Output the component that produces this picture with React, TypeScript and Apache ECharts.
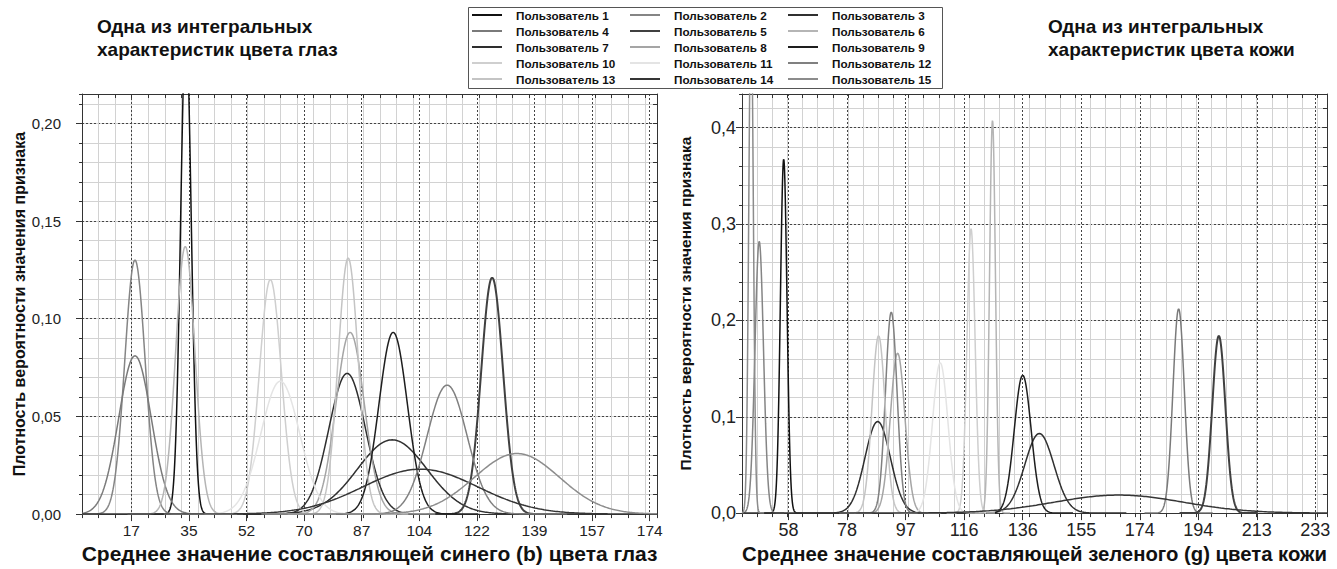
import React, { useEffect, useRef } from 'react';
import * as echarts from 'echarts';

const FONT = "'Liberation Sans', Arial, Helvetica, sans-serif";

const userNames = [
  'Пользователь 1', 'Пользователь 2', 'Пользователь 3', 'Пользователь 4', 'Пользователь 5',
  'Пользователь 6', 'Пользователь 7', 'Пользователь 8', 'Пользователь 9', 'Пользователь 10',
  'Пользователь 11', 'Пользователь 12', 'Пользователь 13', 'Пользователь 14', 'Пользователь 15',
];
const userColors = [
  '#111111', '#858585', '#303030', '#7a7a7a', '#404040',
  '#b5b5b5', '#2e2e2e', '#a5a5a5', '#1e1e1e', '#cfcfcf',
  '#e4e4e4', '#808080', '#c4c4c4', '#353535', '#8c8c8c',
];
const userWidths = [1.5, 1.5, 1.5, 1.5, 2, 1.5, 1.5, 1.5, 1.5, 1.5, 1.5, 1.5, 1.5, 1.5, 1.5];

// Eye colour (b): mean and peak density per user
const eyeMeans = [33.9, 18.5, 96.2, 18.5, 126.4, 33.7, 82.6, 83.5, 96.5, 59.4, 62.4, 112.8, 82.9, 104.7, 133.9];
const eyePeaks = [0.25, 0.13, 0.038, 0.081, 0.121, 0.137, 0.072, 0.093, 0.093, 0.12, 0.068, 0.066, 0.131, 0.023, 0.031];
// Skin colour (g): mean and peak density per user
const skinMeans = [56.6, 48.5, 141.2, 187.3, 200.6, 125.7, 87.7, 94.3, 135.7, 118.6, 108.4, 92.2, 88.0, 167.5, 45.8];
const skinPeaks = [0.3675, 0.282, 0.0826, 0.212, 0.184, 0.4076, 0.095, 0.166, 0.143, 0.295, 0.156, 0.2086, 0.184, 0.0187, 0.53];

const eyeTicks = [17.4, 34.8, 52.2, 69.6, 87.0, 104.4, 121.8, 139.2, 156.6, 174.0];
const skinTicks = [58.22, 77.59, 96.96, 116.33, 135.7, 155.07, 174.44, 193.81, 213.18, 232.55];
const eyeYTicks = [0, 0.05, 0.1, 0.15, 0.2];
const skinYTicks = [0, 0.1, 0.2, 0.3, 0.4];

const EYE_X = { min: 2.5, max: 176.2, minor: 5 };
const SKIN_X = { min: 42.8, max: 236.4, minor: 5.01 };
const EYE_Y = { min: 0, max: 0.215, minor: 0.01 };
const SKIN_Y = { min: 0, max: 0.435, minor: 0.02 };

function densityPoints(mean: number, peak: number, min: number, max: number) {
  const sigma = 1 / (peak * Math.sqrt(2 * Math.PI));
  const lo = Math.max(min, mean - 6 * sigma);
  const hi = Math.min(max, mean + 6 * sigma);
  const n = 320;
  const pts: number[][] = [];
  for (let i = 0; i <= n; i++) {
    const x = lo + ((hi - lo) * i) / n;
    const z = (x - mean) / sigma;
    pts.push([x, peak * Math.exp(-0.5 * z * z)]);
  }
  return pts;
}

const AXIS_COLOR = '#333';
const MINOR_COLOR = '#d2d2d2';
const MAJOR_COLOR = '#444';

function minorX(gridIndex: number, r: any) {
  return {
    type: 'value', gridIndex, position: 'bottom', min: r.min, max: r.max, interval: r.minor,
    axisLine: { show: false, onZero: false },
    axisLabel: { show: false },
    axisTick: { show: true, length: 4, lineStyle: { color: AXIS_COLOR } },
    splitLine: { show: true, lineStyle: { color: MINOR_COLOR, width: 1 } },
  };
}
function majorX(gridIndex: number, r: any, ticks: number[], name: string, labelSize: number, nameSize: number) {
  return {
    type: 'value', gridIndex, position: 'bottom', min: r.min, max: r.max,
    name, nameLocation: 'middle', nameGap: 25,
    nameTextStyle: { fontSize: nameSize, fontWeight: 'bold', color: '#111', fontFamily: FONT },
    axisLine: { show: true, onZero: false, lineStyle: { color: AXIS_COLOR, width: 1 } },
    axisTick: { show: true, length: 7, customValues: ticks, lineStyle: { color: AXIS_COLOR } },
    axisLabel: {
      customValues: ticks, formatter: (v: number) => String(Math.round(v)),
      fontSize: labelSize, color: '#222', margin: 8, fontFamily: FONT,
    },
    splitLine: { show: true, lineStyle: { color: MAJOR_COLOR, type: [2, 2], width: 1 } },
  };
}
function topX(gridIndex: number, r: any) {
  return {
    type: 'value', gridIndex, position: 'top', min: r.min, max: r.max, interval: r.minor,
    axisLine: { show: true, onZero: false, lineStyle: { color: AXIS_COLOR, width: 1 } },
    axisLabel: { show: false },
    axisTick: { show: true, inside: true, length: 4, lineStyle: { color: AXIS_COLOR } },
    splitLine: { show: false },
  };
}
function minorY(gridIndex: number, r: any) {
  return {
    type: 'value', gridIndex, position: 'left', min: r.min, max: r.max, interval: r.minor,
    axisLine: { show: false, onZero: false },
    axisLabel: { show: false },
    axisTick: { show: true, length: 3, lineStyle: { color: AXIS_COLOR } },
    splitLine: { show: true, lineStyle: { color: MINOR_COLOR, width: 1 } },
  };
}
function majorY(gridIndex: number, r: any, ticks: number[], digits: number, margin: number, gap: number, labelSize: number, nameSize: number) {
  return {
    type: 'value', gridIndex, position: 'left', min: r.min, max: r.max,
    name: 'Плотность вероятности значения признака', nameLocation: 'middle', nameGap: gap, nameRotate: 90,
    nameTextStyle: { fontSize: nameSize, fontWeight: 'bold', color: '#111', fontFamily: FONT },
    axisLine: { show: true, onZero: false, lineStyle: { color: AXIS_COLOR, width: 1 } },
    axisTick: { show: true, length: 6, customValues: ticks, lineStyle: { color: AXIS_COLOR } },
    axisLabel: {
      customValues: ticks, formatter: (v: number) => v.toFixed(digits).replace('.', ','),
      fontSize: labelSize, color: '#222', margin, fontFamily: FONT,
    },
    splitLine: { show: true, lineStyle: { color: MAJOR_COLOR, type: [2, 2], width: 1 } },
  };
}
function rightY(gridIndex: number, r: any) {
  return {
    type: 'value', gridIndex, position: 'right', min: r.min, max: r.max, interval: r.minor,
    axisLine: { show: true, onZero: false, lineStyle: { color: AXIS_COLOR, width: 1 } },
    axisLabel: { show: false },
    axisTick: { show: true, inside: true, length: 4, lineStyle: { color: AXIS_COLOR } },
    splitLine: { show: false },
  };
}

export default function App() {
  const ref = useRef<HTMLDivElement>(null);
  useEffect(() => {
    document.body.style.margin = '0';
    if (!ref.current) return;
    const chart = echarts.init(ref.current, null, { renderer: 'svg' });

    const series: any[] = [];
    userNames.forEach((name, i) => {
      series.push({
        type: 'line', name, xAxisIndex: 1, yAxisIndex: 1,
        data: densityPoints(eyeMeans[i], eyePeaks[i], EYE_X.min, EYE_X.max),
        symbol: 'none', showSymbol: false, silent: true, clip: true,
        lineStyle: { color: userColors[i], width: userWidths[i] },
        itemStyle: { color: userColors[i] }, z: 3,
      });
      series.push({
        type: 'line', name, xAxisIndex: 4, yAxisIndex: 4,
        data: densityPoints(skinMeans[i], skinPeaks[i], SKIN_X.min, SKIN_X.max),
        symbol: 'none', showSymbol: false, silent: true, clip: true,
        lineStyle: { color: userColors[i], width: userWidths[i] },
        itemStyle: { color: userColors[i] }, z: 3,
      });
    });

    const legendLefts = [472, 630, 788];
    const legends = [0, 1, 2].map((col) => ({
      orient: 'vertical', left: legendLefts[col], top: 8, padding: 0,
      data: userNames.filter((_, i) => i % 3 === col),
      icon: 'rect', itemWidth: 30, itemHeight: 2, itemGap: 2, selectedMode: false,
      textStyle: { fontSize: 11.7, fontWeight: 'bold', color: '#111', lineHeight: 14, padding: [0, 0, 0, 9], fontFamily: FONT },
    }));

    const titleStyle = { fontSize: 19, fontWeight: 'bold', color: '#111', lineHeight: 23, fontFamily: FONT };
    chart.setOption({
      animation: false,
      backgroundColor: '#ffffff',
      title: [
        { text: 'Одна из интегральных\nхарактеристик цвета глаз', left: 97, top: 15, padding: 0, textStyle: titleStyle },
        { text: 'Одна из интегральных\nхарактеристик цвета кожи', left: 1048, top: 15, padding: 0, textStyle: titleStyle },
      ],
      legend: legends,
      graphic: [
        {
          type: 'rect', left: 468, top: 7, z: 0,
          shape: { width: 474, height: 81 },
          style: { fill: 'transparent', stroke: '#555', lineWidth: 1 },
        },
      ],
      grid: [
        { left: 82, top: 94, width: 575, height: 421 },
        { left: 742, top: 94, width: 585, height: 420 },
      ],
      xAxis: [
        minorX(0, EYE_X),
        majorX(0, EYE_X, eyeTicks, 'Среднее значение составляющей синего (b) цвета глаз', 15.5, 21),
        topX(0, EYE_X),
        minorX(1, SKIN_X),
        majorX(1, SKIN_X, skinTicks, 'Среднее значение составляющей зеленого (g) цвета кожи', 18, 20.3),
        topX(1, SKIN_X),
      ],
      yAxis: [
        minorY(0, EYE_Y),
        majorY(0, EYE_Y, eyeYTicks, 2, 21, 55, 15, 16),
        rightY(0, EYE_Y),
        minorY(1, SKIN_Y),
        majorY(1, SKIN_Y, skinYTicks, 1, 6, 49, 18, 15.5),
        rightY(1, SKIN_Y),
      ],
      series,
    });
    return () => chart.dispose();
  }, []);
  return <div ref={ref} style={{ width: 1337, height: 569 }} />;
}
